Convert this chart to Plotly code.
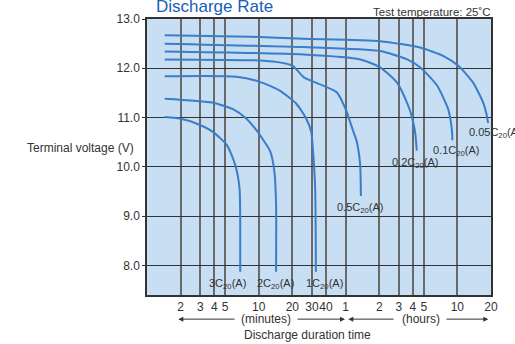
import plotly.graph_objects as go

# ---- data (discharge time in minutes, terminal voltage in V) ----
rate_labels = ["0.05C<sub>20</sub>(A)", "0.1C<sub>20</sub>(A)", "0.2C<sub>20</sub>(A)",
               "0.5C<sub>20</sub>(A)", "1C<sub>20</sub>(A)", "2C<sub>20</sub>(A)", "3C<sub>20</sub>(A)"]

t_005 = [1.44, 8.4, 25.2, 122, 278, 447, 612, 829, 1019, 1099, 1130]
v_005 = [12.67, 12.64, 12.60, 12.55, 12.42, 12.25, 12.05, 11.71, 11.31, 11.05, 10.89]

t_01 = [1.44, 25.2, 122, 213, 278, 395, 495, 516, 538, 541]
v_01 = [12.50, 12.43, 12.35, 12.18, 12.02, 11.65, 11.18, 11.01, 10.71, 10.54]

t_02 = [1.44, 25.2, 80.9, 122, 173, 217, 235, 251, 260]
v_02 = [12.34, 12.28, 12.18, 12.02, 11.71, 11.25, 11.01, 10.71, 10.33]

t_05 = [1.44, 10.1, 14.3, 20.2, 25.2, 50.1, 61.5, 63.6, 70.5, 75.5, 80.9, 82.1]
v_05 = [12.18, 12.16, 12.13, 12.05, 11.82, 11.51, 11.11, 11.01, 10.71, 10.51, 10.04, 9.41]

t_1 = [1.44, 6.29, 10.1, 15.3, 21.7, 26.6, 29.5, 30.5, 32.0, 32.5]
v_1 = [11.84, 11.83, 11.73, 11.55, 11.28, 10.98, 10.71, 10.38, 9.57, 7.87]

t_2 = [1.44, 3.89, 5.88, 7.73, 9.50, 10.3, 12.7, 13.8, 14.3, 14.3]
v_2 = [11.38, 11.30, 11.17, 10.98, 10.75, 10.64, 10.31, 9.91, 9.24, 7.87]

t_3 = [1.44, 1.96, 2.76, 3.89, 5.19, 6.16, 6.73, 6.83, 6.83]
v_3 = [11.01, 10.98, 10.88, 10.71, 10.44, 10.04, 9.57, 8.90, 7.87]

x_tickvals = [2, 3, 4, 5, 10, 20, 30, 40, 60, 120, 180, 240, 300, 600, 1200]
x_ticktext = ["2", "3", "4", "5", "10", "20", "30", "40", "1", "2", "3", "4", "5", "10", "20"]
y_tickvals = [8.0, 9.0, 10.0, 11.0, 12.0, 13.0]
y_ticktext = ["8.0", "9.0", "10.0", "11.0", "12.0", "13.0"]

series_t = [t_005, t_01, t_02, t_05, t_1, t_2, t_3]
series_v = [v_005, v_01, v_02, v_05, v_1, v_2, v_3]

# ---- layout geometry ----
W, H = 515, 344
L, R, T, B = 147, 24, 17, 49
PW, PH = W - L - R, H - T - B


def px_x(px):
    return (px - L) / PW


def px_y(py):
    return (H - B - py) / PH


LINE = "#3a7dc8"
TXT = "#333333"
FONT = "Liberation Sans, Arial, sans-serif"

fig = go.Figure()
for name, t, v in zip(rate_labels, series_t, series_v):
    fig.add_trace(go.Scatter(x=t, y=v, mode="lines", name=name,
                             line=dict(color=LINE, width=2, shape="spline", smoothing=0.6),
                             showlegend=False, hoverinfo="skip"))

# curve labels (pixel positions from the reference)
label_pos = [(467, 131.7, "left"), (455.7, 150, "center"), (415, 161.7, "center"),
             (360, 207, "center"), (324, 284, "center"), (275, 284, "center"), (227.5, 284, "center")]
annotations = []
for name, (px, py, anc) in zip(rate_labels, label_pos):
    annotations.append(dict(text=name, x=px_x(px), y=px_y(py), xref="paper", yref="paper",
                            xanchor=anc, yanchor="middle", showarrow=False,
                            font=dict(family=FONT, size=11, color=TXT)))

annotations += [
    dict(text="Discharge Rate", x=px_x(214), y=1.0, xref="paper", yref="paper",
         xanchor="center", yanchor="bottom", showarrow=False, yshift=1,
         font=dict(family=FONT, size=17, color="#1660b8")),
    dict(text="Test temperature: 25˚C", x=px_x(493), y=px_y(10), xref="paper", yref="paper",
         xanchor="right", yanchor="middle", showarrow=False,
         font=dict(family=FONT, size=11.5, color=TXT)),
    dict(text="Terminal voltage (V)", x=px_x(136), y=px_y(146.7), xref="paper", yref="paper",
         xanchor="right", yanchor="middle", showarrow=False,
         font=dict(family=FONT, size=12, color=TXT)),
    dict(text="(minutes)", x=px_x(266), y=px_y(319.3), xref="paper", yref="paper",
         xanchor="center", yanchor="middle", showarrow=False,
         font=dict(family=FONT, size=12, color=TXT)),
    dict(text="(hours)", x=px_x(421), y=px_y(319.3), xref="paper", yref="paper",
         xanchor="center", yanchor="middle", showarrow=False,
         font=dict(family=FONT, size=12, color=TXT)),
    dict(text="Discharge duration time", x=px_x(307.5), y=px_y(335), xref="paper", yref="paper",
         xanchor="center", yanchor="middle", showarrow=False,
         font=dict(family=FONT, size=12, color=TXT)),
]

# arrows under the axis
for tip, tail in [(178.3, 236), (345, 296), (348.3, 395), (488.3, 445)]:
    annotations.append(dict(text="", x=px_x(tip), y=px_y(319.3), xref="paper", yref="paper",
                            showarrow=True, ax=tail - tip, ay=0, arrowhead=2, arrowsize=1,
                            arrowwidth=1, arrowcolor=TXT, standoff=0, startstandoff=0))

fig.update_layout(
    width=W, height=H, margin=dict(l=L, r=R, t=T, b=B, pad=0),
    paper_bgcolor="white", plot_bgcolor="#c7def3",
    annotations=annotations,
    xaxis=dict(type="log", range=[0, 3.0792], tickvals=x_tickvals, ticktext=x_ticktext,
               tickangle=0, showgrid=True, gridcolor="#6a6a6a", gridwidth=1.5, ticks="",
               showline=True, linecolor="#333", linewidth=1.5, mirror=True,
               tickfont=dict(family=FONT, size=12, color=TXT), zeroline=False),
    yaxis=dict(range=[7.4, 13.0], tickvals=y_tickvals, ticktext=y_ticktext,
               showgrid=True, gridcolor="#333", gridwidth=1.3, ticks="outside", ticklen=3,
               tickcolor="#333", showline=True, linecolor="#333", linewidth=1.5, mirror=True,
               tickfont=dict(family=FONT, size=12, color=TXT), zeroline=False),
)

fig.write_html("out.html")
